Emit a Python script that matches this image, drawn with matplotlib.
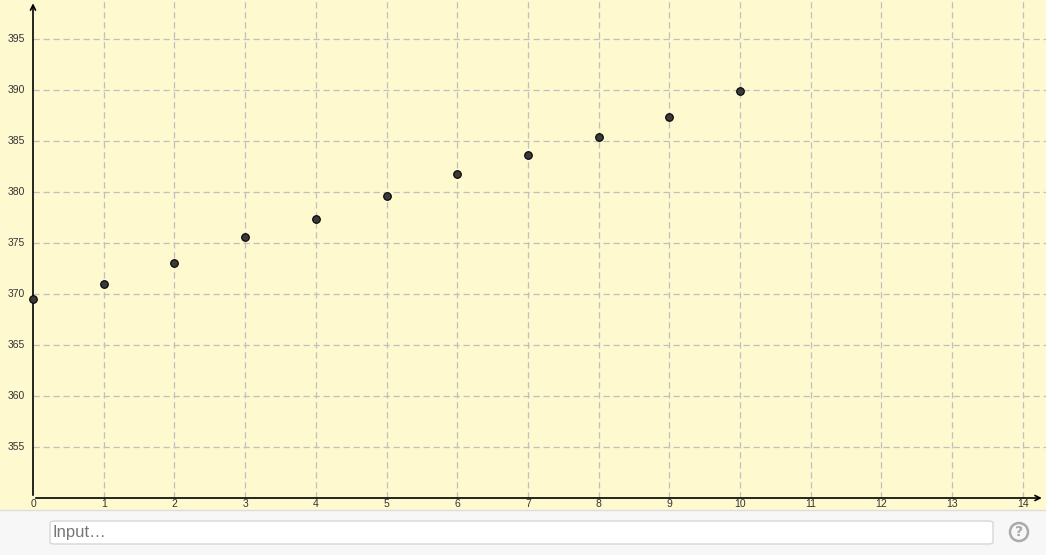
import matplotlib.pyplot as plt
from matplotlib.patches import FancyBboxPatch, Circle

x_values = [0, 1, 2, 3, 4, 5, 6, 7, 8, 9, 10]
y_values = [369.5, 371.0, 373.0, 375.6, 377.4, 379.6, 381.8, 383.6, 385.4, 387.4, 389.9]
x_ticks = list(range(0, 15))
y_ticks = [355, 360, 365, 370, 375, 380, 385, 390, 395]

W, H = 1046, 555
fig = plt.figure(figsize=(W / 100, H / 100), dpi=100)
fig.set_facecolor("#f7f7f7")

plot_h = 510
ax = fig.add_axes([0, 1 - plot_h / H, 1, plot_h / H])
ax.set_facecolor("#fef9cf")
px_x = 70.7
px_y = 10.2
x0, y0 = 33, 498
ax.set_xlim(-x0 / px_x, (W - x0) / px_x)
ax.set_ylim(350 - (plot_h - y0) / px_y, 350 + y0 / px_y)
for s in ax.spines.values():
    s.set_visible(False)
ax.set_xticks([])
ax.set_yticks([])

xmin, xmax = ax.get_xlim()
ymin, ymax = ax.get_ylim()

# grid, only in the positive quadrant like the original view
for gx in x_ticks[1:]:
    ax.plot([gx, gx], [350, ymax], color="#c0c0c0", lw=0.9, ls=(0, (5, 3)), zorder=1)
for gy in y_ticks:
    ax.plot([0, xmax], [gy, gy], color="#c0c0c0", lw=0.9, ls=(0, (5, 3)), zorder=1)

# axes with arrows
ax.annotate("", xy=(xmax - 0.02, 350), xytext=(0, 350),
            arrowprops=dict(arrowstyle="->", lw=1.2, color="black", mutation_scale=9), zorder=3)
ax.annotate("", xy=(0, ymax - 0.05), xytext=(0, 350),
            arrowprops=dict(arrowstyle="->", lw=1.2, color="black", mutation_scale=9), zorder=3)

for tx in x_ticks:
    ax.text(tx, 350 - 0.05, str(tx), ha="center", va="top", fontsize=7.5, color="#333333",
            family="Liberation Sans", zorder=4)
for ty in y_ticks:
    ax.text(-0.11, ty, str(ty), ha="right", va="center", fontsize=7.5, color="#333333",
            family="Liberation Sans", zorder=4)

ax.scatter(x_values, y_values, s=30, color="#3a3a3a", edgecolors="black", linewidths=0.8,
           zorder=5, clip_on=False)

# input bar
fig.add_artist(plt.Line2D([0, 1], [1 - plot_h / H, 1 - plot_h / H], color="#dddddd", lw=1))
box = FancyBboxPatch((50 / W, 1 - 544 / H), 943 / W, 23 / H,
                     boxstyle="round,pad=0,rounding_size=0.004", transform=fig.transFigure,
                     facecolor="white", edgecolor="#d6d6d6", lw=1)
fig.add_artist(box)
fig.text(53 / W, 1 - 532 / H, "Input…", ha="left", va="center", fontsize=12,
         color="#777777", family="Liberation Sans")
fig.text(1019 / W, 1 - 532 / H, "?", ha="center", va="center", fontsize=10,
         color="#aaaaaa", weight="bold", family="DejaVu Sans")
circ = Circle((1019, H - 532), 9, transform=None, facecolor="none", edgecolor="#aaaaaa", lw=1.8)
fig.add_artist(circ)

fig.savefig("out.png", dpi=100, facecolor=fig.get_facecolor())
